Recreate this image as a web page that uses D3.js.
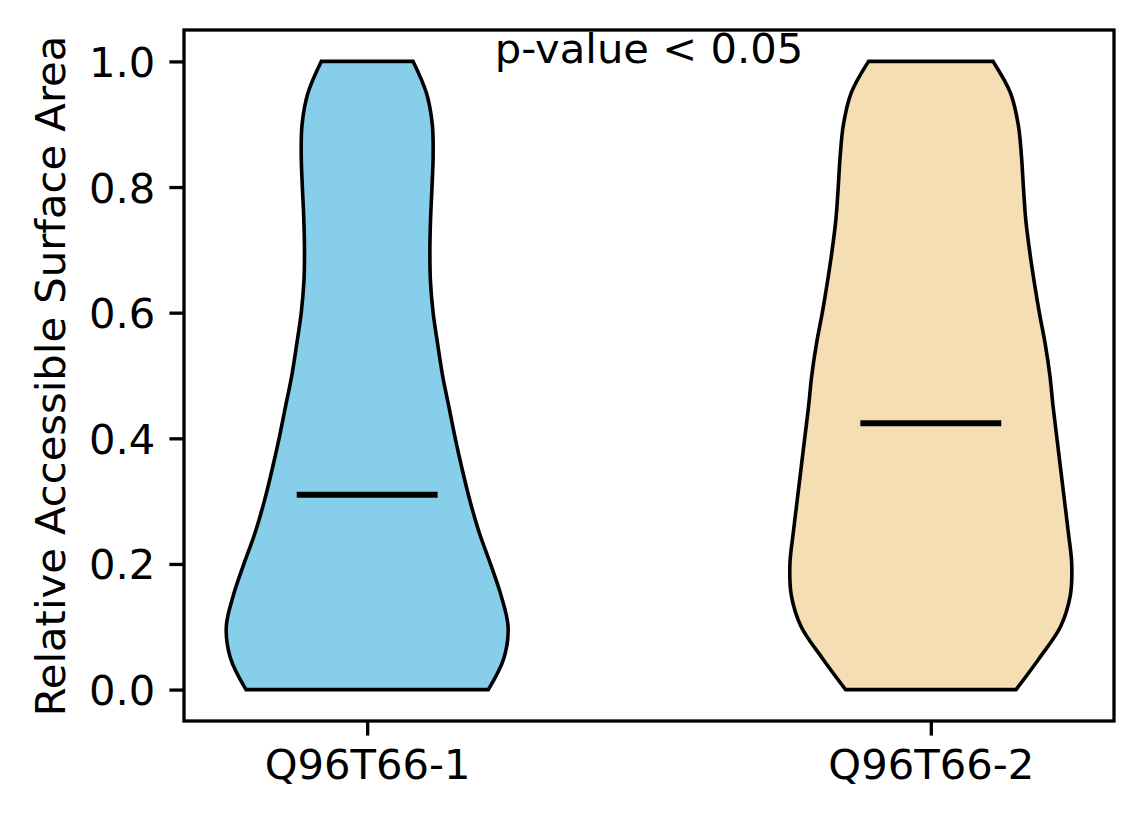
<!DOCTYPE html>
<html>
<head>
<meta charset="utf-8">
<script src="https://cdn.jsdelivr.net/npm/d3@7"></script>
<style>
  body { margin: 0; background: #fff; }
  svg text { font-family: "DejaVu Sans", sans-serif; font-size: 41.7px; fill: #000; }
</style>
</head>
<body>
<svg width="1144" height="824"></svg>
<script>
// values
const groups = ['Q96T66-1', 'Q96T66-2'];
const colors = ['#87ceeb', '#f5deb3'];
const levels = [0, 0.05, 0.1, 0.15, 0.2, 0.25, 0.3, 0.35, 0.4, 0.45, 0.5,
                0.55, 0.6, 0.65, 0.7, 0.75, 0.8, 0.85, 0.9, 0.95, 1.0];
// relative violin width (1 = widest) at each level
const width1 = [0.86, 0.97, 1.0, 0.95, 0.875, 0.795, 0.73, 0.675, 0.625, 0.58, 0.535,
                0.5, 0.468, 0.449, 0.445, 0.45, 0.46, 0.468, 0.462, 0.42, 0.326];
const width2 = [0.605, 0.77, 0.92, 0.99, 1.0, 0.976, 0.949, 0.922, 0.895, 0.868, 0.845,
                0.812, 0.77, 0.733, 0.70, 0.673, 0.657, 0.643, 0.62, 0.565, 0.442];
const medians = [0.31, 0.424];
const yTicks = [0, 0.2, 0.4, 0.6, 0.8, 1.0];
const note = 'p-value < 0.05';

let draw = () => {
    var svg = d3.select('svg');

    var xScale = d3.scaleLinear()
        .domain([0.675, 2.325])
        .range([184, 1114]);

    var yScale = d3.scaleLinear()
        .domain([-0.05, 1.05])
        .range([721, 30]);

    var widths = [width1, width2];
    var half = 0.25;

    groups.forEach((g, i) => {
        var pos = i + 1;
        var pts = levels.map((v, j) => ({v: v, w: widths[i][j]}));

        var area = d3.area()
            .curve(d3.curveCatmullRom)
            .y(d => yScale(d.v))
            .x0(d => xScale(pos - d.w * half))
            .x1(d => xScale(pos + d.w * half));

        svg.append('path')
            .datum(pts)
            .attr('d', area)
            .attr('fill', colors[i])
            .attr('stroke', '#000')
            .attr('stroke-width', 3.6)
            .attr('stroke-linejoin', 'miter');

        svg.append('line')
            .attr('x1', xScale(pos - 0.125))
            .attr('x2', xScale(pos + 0.125))
            .attr('y1', yScale(medians[i]))
            .attr('y2', yScale(medians[i]))
            .attr('stroke', '#000')
            .attr('stroke-width', 6);
    });

    // axes
    var yAxis = d3.axisLeft(yScale)
        .tickValues(yTicks)
        .tickFormat(d3.format('.1f'))
        .tickSize(14.6)
        .tickPadding(14);

    var gy = svg.append('g')
        .attr('transform', 'translate(184,0)')
        .call(yAxis);
    gy.select('.domain').remove();
    gy.selectAll('line').attr('stroke-width', 3.3);
    gy.selectAll('text')
        .attr('font-size', null)
        .attr('font-family', null)
        .attr('dy', '0.36em');

    var xAxis = d3.axisBottom(xScale)
        .tickValues([1, 2])
        .tickFormat((d, i) => groups[i])
        .tickSize(14.6)
        .tickPadding(14);

    var gx = svg.append('g')
        .attr('transform', 'translate(0,721)')
        .call(xAxis);
    gx.select('.domain').remove();
    gx.selectAll('line').attr('stroke-width', 3.3);
    gx.selectAll('text')
        .attr('font-size', null)
        .attr('font-family', null);

    svg.append('rect')
        .attr('x', 184)
        .attr('y', 30)
        .attr('width', 930)
        .attr('height', 691)
        .attr('fill', 'none')
        .attr('stroke', '#000')
        .attr('stroke-width', 3.3);

    svg.append('text')
        .attr('transform', 'translate(65,376) rotate(-90)')
        .attr('text-anchor', 'middle')
        .text('Relative Accessible Surface Area');

    svg.append('text')
        .attr('x', xScale(1.5))
        .attr('y', yScale(1.0) + 1.5)
        .attr('text-anchor', 'middle')
        .text(note);
}

draw();
</script>
</body>
</html>
